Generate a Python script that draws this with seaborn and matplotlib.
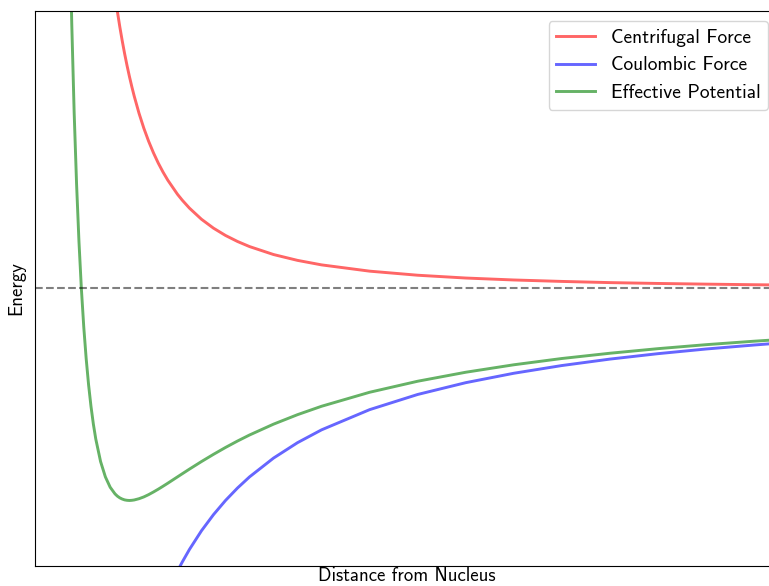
import numpy as np
import pandas as pnd
import seaborn as sns
import matplotlib.pyplot as plt

# distance from nucleus (arbitrary units) and the three energy curves
distance = [0.75, 0.8, 0.85, 0.9, 0.95, 1.0, 1.05, 1.1, 1.15, 1.2, 1.25, 1.3, 1.4, 1.5,
            1.6, 1.7, 1.75, 1.8, 1.85, 1.9, 1.95, 2.0, 2.05, 2.1, 2.2, 2.3, 2.4, 2.5, 2.6,
            2.7, 2.8, 3.0, 3.1, 3.25, 3.5, 3.75, 4.0, 4.25, 4.5, 5.0, 5.5, 6.0, 7.0, 8.0,
            9.0, 10.0, 11.0, 12.0, 13.0, 14.0, 15.0, 15.6]
centrifugal = [1.7778, 1.5625, 1.3841, 1.2346, 1.1080, 1.0, 0.9070, 0.8264, 0.7561, 0.6944,
               0.64, 0.5917, 0.5102, 0.4444, 0.3906, 0.3460, 0.3265, 0.3086, 0.2922, 0.2770,
               0.2630, 0.25, 0.2380, 0.2268, 0.2066, 0.1890, 0.1736, 0.16, 0.1479, 0.1372,
               0.1276, 0.1111, 0.1041, 0.0947, 0.0816, 0.0711, 0.0625, 0.0554, 0.0494, 0.04,
               0.0331, 0.0278, 0.0204, 0.0156, 0.0123, 0.01, 0.0083, 0.0069, 0.0059, 0.0051,
               0.0044, 0.0041]
coulombic = [-1.3333, -1.25, -1.1765, -1.1111, -1.0526, -1.0, -0.9524, -0.9091, -0.8696,
             -0.8333, -0.8, -0.7692, -0.7143, -0.6667, -0.625, -0.5882, -0.5714, -0.5556,
             -0.5405, -0.5263, -0.5128, -0.5, -0.4878, -0.4762, -0.4545, -0.4348, -0.4167,
             -0.4, -0.3846, -0.3704, -0.3571, -0.3333, -0.3226, -0.3077, -0.2857, -0.2667,
             -0.25, -0.2353, -0.2222, -0.2, -0.1818, -0.1667, -0.1429, -0.125, -0.1111,
             -0.1, -0.0909, -0.0833, -0.0769, -0.0714, -0.0667, -0.0641]
effective = [0.4444, 0.3125, 0.2076, 0.1235, 0.0554, 0.0, -0.0454, -0.0826, -0.1134,
             -0.1389, -0.16, -0.1775, -0.2041, -0.2222, -0.2344, -0.2422, -0.2449, -0.2469,
             -0.2483, -0.2493, -0.2498, -0.25, -0.2498, -0.2494, -0.2479, -0.2458, -0.2431,
             -0.24, -0.2367, -0.2332, -0.2296, -0.2222, -0.2185, -0.2130, -0.2041, -0.1956,
             -0.1875, -0.1799, -0.1728, -0.16, -0.1488, -0.1389, -0.1224, -0.1094, -0.0988,
             -0.09, -0.0826, -0.0764, -0.0710, -0.0663, -0.0622, -0.0600]

plt.rcParams['font.family'] = ['cmss10', 'DejaVu Sans']
plt.rcParams['axes.unicode_minus'] = False

fig, ax = plt.subplots(figsize=(7.69, 5.86), dpi=100)
# right spine sits just outside the saved picture, as in the reference
fig.subplots_adjust(left=0.0452, right=1.0117, top=0.981, bottom=0.0345)

sns.lineplot(x=distance, y=centrifugal, ax=ax, color='red', alpha=0.6, lw=2.1, sort=False,
             label='Centrifugal Force')
sns.lineplot(x=distance, y=coulombic, ax=ax, color='blue', alpha=0.6, lw=2.1, sort=False,
             label='Coulombic Force')
sns.lineplot(x=distance, y=effective, ax=ax, color='green', alpha=0.6, lw=2.1, sort=False,
             label='Effective Potential')
ax.axhline(0, color='k', linestyle='--', alpha=0.5, lw=1.5)

ax.set_xlim(0.03, 15.5)
ax.set_ylim(-0.327, 0.327)
ax.set_xticks([])
ax.set_yticks([])
ax.set_xlabel('Distance from Nucleus', fontsize=13.5, labelpad=1)
ax.set_ylabel('Energy', fontsize=13.5, labelpad=7)
ax.legend(loc='upper right', fontsize=14)

plt.savefig('out.png', dpi=100)
